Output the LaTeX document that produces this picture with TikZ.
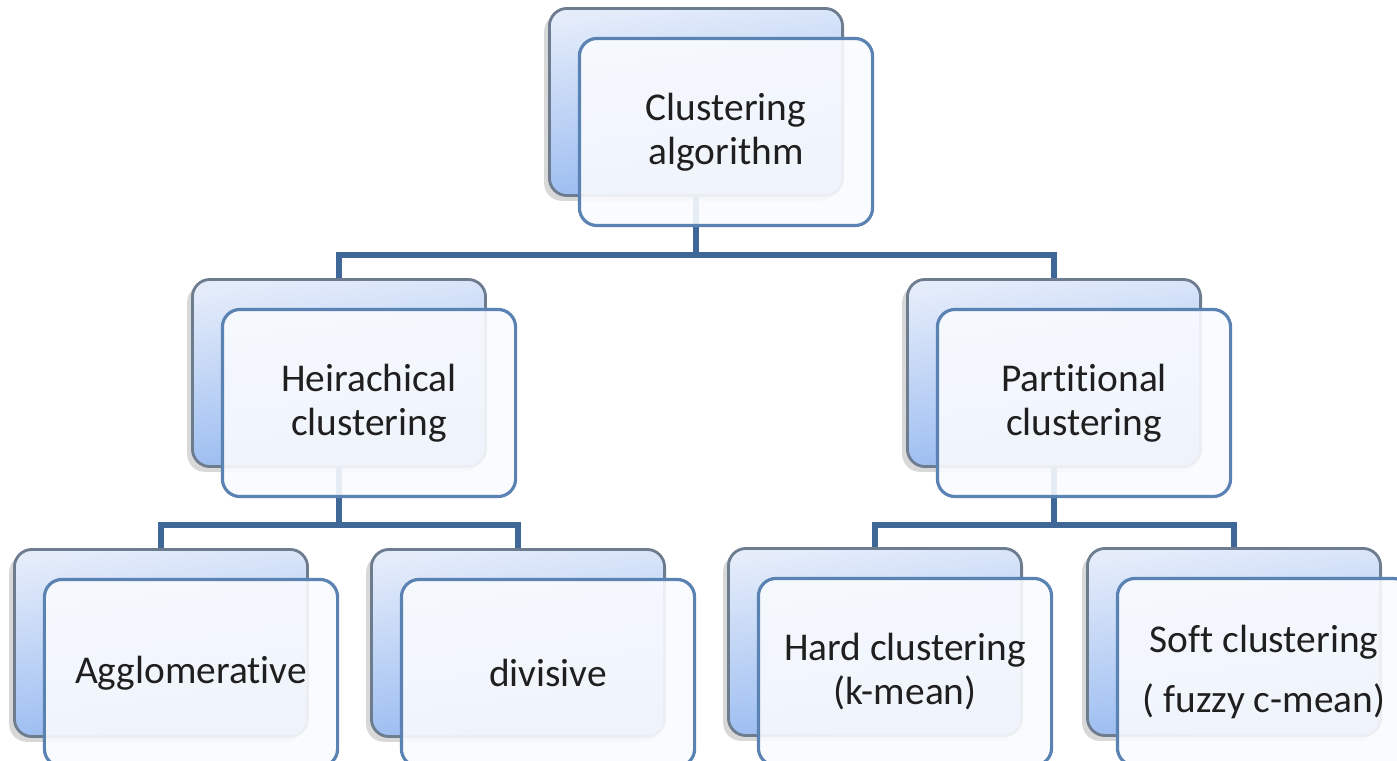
\documentclass[tikz,border=0pt]{standalone}
\usepackage{fontspec}
\setmainfont{Carlito}[Ligatures=NoCommon]
\usetikzlibrary{positioning,shadows}
\definecolor{linkblue}{HTML}{3F6797}
\definecolor{backtop}{HTML}{E4ECFA}
\definecolor{backbot}{HTML}{94B8F0}
\definecolor{backline}{HTML}{6E7C90}
\definecolor{frontline}{HTML}{5A82B2}
\definecolor{frontfill}{HTML}{F9FBFE}

\begin{document}
\begin{tikzpicture}[
  x=0.01cm, y=-0.01cm,
  font=\fontsize{11.2}{12.5}\selectfont,
  backbox/.style={draw=backline, line width=0.8pt, rounded corners=5pt,
    top color=backtop, bottom color=backbot, shading angle=8,
    minimum width=2.93cm, minimum height=1.87cm,
    drop shadow={shadow xshift=-1.5pt, shadow yshift=-1.5pt, opacity=0.3}},
  frontbox/.style={draw=frontline, line width=0.9pt, rounded corners=5pt,
    fill=frontfill, fill opacity=0.9, text opacity=1, text=black!88,
    minimum width=2.93cm, minimum height=1.87cm, align=center},
  link/.style={draw=linkblue, line width=1.6pt},
]
\useasboundingbox (0,0) rectangle (1397,761);
\clip (0,0) rectangle (1397,761);
\fill[white] (0,0) rectangle (1397,761);

% back cards
\node[backbox] (algoB)  at (696,102) {};
\node[backbox] (hierB)  at (339,373) {};
\node[backbox] (partB)  at (1054,373) {};
\node[backbox] (aggloB) at (161,643) {};
\node[backbox] (diviB)  at (518,643) {};
\node[backbox] (hardB)  at (875,642) {};
\node[backbox] (softB)  at (1234,642) {};

% tree links
\coordinate (busA) at (0,255);
\coordinate (busB) at (0,525);
\draw[link] (algoB.south) -- (algoB.south |- busA) -| (hierB.north);
\draw[link] (algoB.south |- busA) -| (partB.north);
\draw[link] (hierB.south) -- (hierB.south |- busB) -| (aggloB.north);
\draw[link] (hierB.south |- busB) -| (diviB.north);
\draw[link] (partB.south) -- (partB.south |- busB) -| (hardB.north);
\draw[link] (partB.south |- busB) -| (softB.north);

% front cards
\node[frontbox] (algo)  at ([shift={(30,30)}]algoB)  {Clustering\\algorithm};
\node[frontbox] (hier)  at ([shift={(30,30)}]hierB)  {Heirachical\\clustering};
\node[frontbox] (part)  at ([shift={(30,30)}]partB)  {Partitional\\clustering};
\node[frontbox] (agglo) at ([shift={(30,30)}]aggloB) {Agglomerative};
\node[frontbox] (divi)  at ([shift={(30,30)}]diviB)  {divisive};
\node[frontbox] (hard)  at ([shift={(30,30)}]hardB)  {Hard clustering\\(k-mean)};
\node[frontbox] (soft)  at ([shift={(30,30)}]softB)  {Soft clustering\\[0.16cm]( fuzzy c-mean)};
\end{tikzpicture}
\end{document}
